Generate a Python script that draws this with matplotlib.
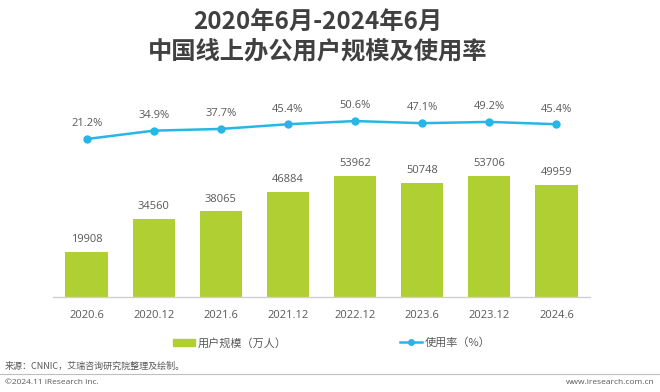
import matplotlib
matplotlib.use("Agg")
import matplotlib.pyplot as plt
from matplotlib.lines import Line2D
from matplotlib.patches import Patch

periods = ["2020.6", "2020.12", "2021.6", "2021.12", "2022.12", "2023.6", "2023.12", "2024.6"]
users = [19908, 34560, 38065, 46884, 53962, 50748, 53706, 49959]
rate = [21.2, 34.9, 37.7, 45.4, 50.6, 47.1, 49.2, 45.4]

green = "#AFCF32"
blue = "#27B6E6"
gray = "#595959"
cjk = ["Noto Sans CJK SC", "DejaVu Sans"]
num = ["Open Sans", "Noto Sans CJK SC", "DejaVu Sans"]

fig = plt.figure(figsize=(6.6, 3.92), dpi=100)
ax = fig.add_axes([53 / 660, 1 - 297 / 392, 537 / 660, 197 / 392])

x = list(range(len(periods)))
ax.bar(x, users, width=0.63, color=green, zorder=2)
ax.set_xlim(-0.5, len(periods) - 0.5)
ax.set_ylim(0, 87700)
for i, v in enumerate(users):
    ax.annotate(str(v), (i, v), xytext=(0, 5), textcoords="offset points",
                ha="center", va="bottom", fontsize=8, color=gray, family=num)

ax.set_xticks(x)
ax.set_xticklabels(periods, fontsize=8, color=gray, family=num)
ax.tick_params(axis="x", length=0, pad=9)
ax.set_yticks([])
for s in ["top", "right", "left"]:
    ax.spines[s].set_visible(False)
ax.spines["bottom"].set_color("#D0D0D0")
ax.spines["bottom"].set_linewidth(1.0)

ax2 = ax.twinx()
ax2.plot(x, rate, color=blue, lw=1.8, marker="o", ms=5, zorder=3)
ax2.set_ylim(-237, 85)
ax2.set_yticks([])
for s in ax2.spines.values():
    s.set_visible(False)
for i, v in enumerate(rate):
    ax2.annotate(f"{v}%", (i, v), xytext=(0, 7), textcoords="offset points",
                 ha="center", va="bottom", fontsize=8, color=gray, family=num)

# two-line title, centred a bit left of the figure middle like the source
fig.text(318 / 660, 1 - 22 / 392, "2020年6月-2024年6月", ha="center", va="center",
         fontsize=17.5, fontweight="bold", color="#404040", family=cjk)
fig.text(318 / 660, 1 - 51 / 392, "中国线上办公用户规模及使用率", ha="center", va="center",
         fontsize=17.5, fontweight="bold", color="#404040", family=cjk)

h1 = Patch(color=green)
h2 = Line2D([], [], color=blue, lw=1.8, marker="o", ms=4)
leg = fig.legend([h1], ["用户规模（万人）"], loc="center left",
                 bbox_to_anchor=(163 / 660, 1 - 343 / 392), frameon=False,
                 prop={"family": cjk, "size": 8}, handlelength=2.0, handleheight=0.6,
                 handletextpad=0.2)
for t in leg.get_texts():
    t.set_color(gray)
leg2 = fig.legend([h2], ["使用率（%）"], loc="center left",
                  bbox_to_anchor=(390 / 660, 1 - 343 / 392), frameon=False,
                  prop={"family": cjk, "size": 8}, handlelength=2.0,
                  handletextpad=0.2)
for t in leg2.get_texts():
    t.set_color(gray)

fig.text(5 / 660, 1 - 366 / 392, "来源：CNNIC，艾瑞咨询研究院整理及绘制。", ha="left", va="center",
         fontsize=6.5, color=gray, family=cjk)
fig.add_artist(Line2D([0, 1], [1 - 374 / 392, 1 - 374 / 392], color="#BFBFBF", lw=0.8))
fig.text(5 / 660, 1 - 382 / 392, "©2024.11 iResearch Inc.", ha="left", va="center",
         fontsize=6, color=gray, family=num)
fig.text(655 / 660, 1 - 382 / 392, "www.iresearch.com.cn", ha="right", va="center",
         fontsize=6, color=gray, family=num)

fig.savefig("out.png", dpi=100, facecolor="white")
